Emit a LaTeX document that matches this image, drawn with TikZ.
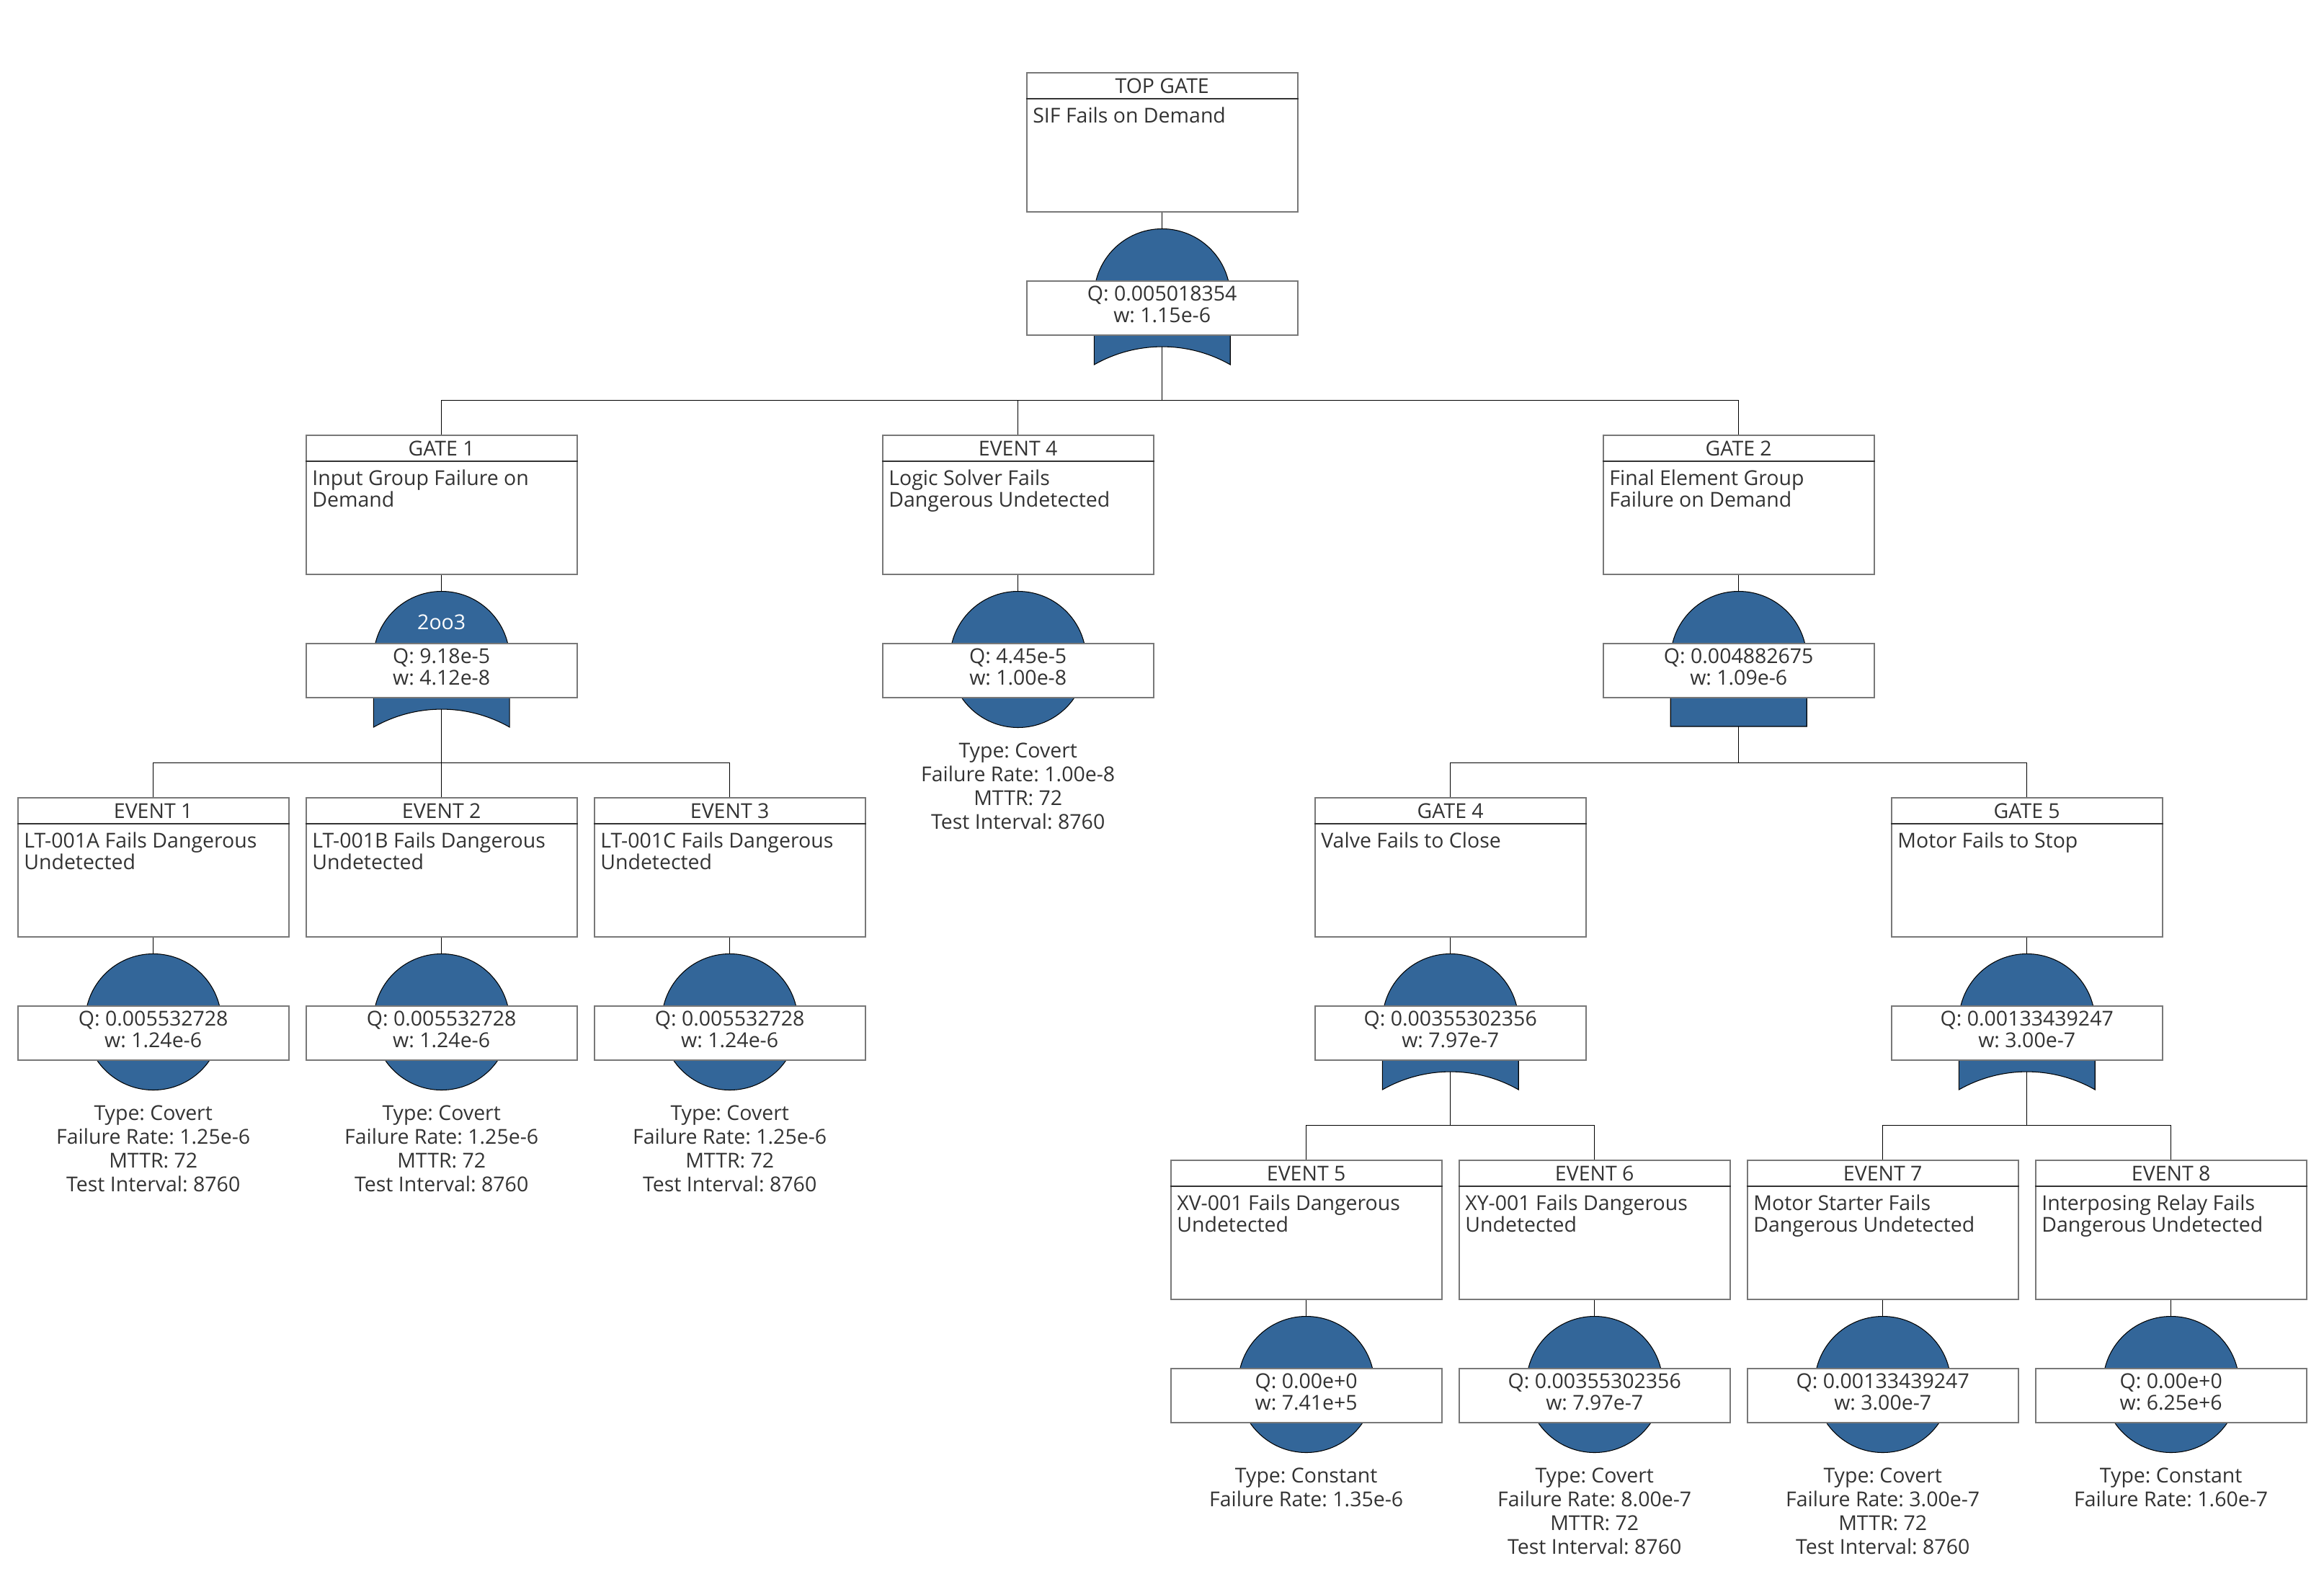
\documentclass[tikz,border=0pt]{standalone}
\usepackage{fontspec}
\setmainfont{Open Sans}
\usetikzlibrary{positioning}
\frenchspacing

\definecolor{gateblue}{RGB}{51,102,153}
\definecolor{framegray}{RGB}{120,120,120}
\definecolor{inkgray}{RGB}{51,51,51}

\begin{document}
\begin{tikzpicture}
        [font=\fontsize{8.1}{8.5}\selectfont,text=inkgray,
         box/.style={draw=framegray,line width=0.6pt,fill=white,minimum width=3.76cm,minimum height=1.93cm,inner sep=0pt,anchor=north},
         qbox/.style={draw=framegray,line width=0.6pt,fill=white,minimum width=3.76cm,minimum height=0.75cm,inner sep=0pt},
         qtxt/.style={align=center,inner sep=0pt},
         divider/.style={draw=inkgray,line width=0.45pt},
         gate/.style={fill=gateblue,draw=black,line width=0.3pt},
         basic/.style={circle,fill=gateblue,draw=black,line width=0.3pt,minimum size=1.89cm,inner sep=0pt},
         link/.style={draw=black,line width=0.3pt},
         ttl/.style={anchor=base,inner sep=0pt},
         desc/.style={anchor=north west,align=left,inner sep=0pt},
         info/.style={align=center,inner sep=0pt,font=\fontsize{8.1}{9.4}\selectfont}]
        \useasboundingbox (0,0) rectangle (32.25,-22.08);

        % or gates (the voting gate g1 too)
        \foreach \nm/\k/\lev in {top/7/0, g1/2/1, g4/9/2, g5/13/2} {
            \pgfmathsetmacro\cx{2.127+2*\k}
            \pgfmathsetmacro\yt{-0.995-5.03*\lev}
            \draw[gate] ({\cx-0.945},{\yt-3.125}) arc[start angle=180,end angle=0,radius=0.945]
                -- ({\cx+0.945},{\yt-4.065}) arc[start angle=60.4,end angle=119.6,radius=1.911] -- cycle;
            \coordinate (\nm-t) at ({\cx},{\yt-2.18});
            \coordinate (\nm-b) at ({\cx},{\yt-3.815});
            \coordinate (\nm-bus) at ({\cx},{\yt-4.56});
        }
        \node[ttl,text=white] (g1-vote) at ([yshift=-0.527cm]g1-t) {2oo3};

        % and gate
        \draw[gate] (23.182,-9.15) arc[start angle=180,end angle=0,radius=0.945]
            -- (25.072,-10.08) -- (23.182,-10.08) -- cycle;
        \coordinate (g2-t) at (24.127,-8.205);
        \coordinate (g2-b) at (24.127,-10.08);
        \coordinate (g2-bus) at (24.127,-10.585);

        % basic events
        \foreach \nm/\k/\lev in {e1/0/2, e2/2/2, e3/4/2, e4/6/1, e5/8/3, e6/10/3, e7/12/3, e8/14/3}
            \node[basic] (\nm-c) at ({2.127+2*\k},{-4.12-5.03*\lev}) {};

        % boxes
        \foreach \nm/\k/\lev/\ttl/\desc/\q/\w in {
            top/7/0/TOP GATE/{SIF Fails on Demand}/0.005018354/1.15e-6,
            g1/2/1/GATE 1/{Input Group Failure on\\Demand}/9.18e-5/4.12e-8,
            e4/6/1/EVENT 4/{Logic Solver Fails\\Dangerous Undetected}/4.45e-5/1.00e-8,
            g2/11/1/GATE 2/{Final Element Group\\Failure on Demand}/0.004882675/1.09e-6,
            e1/0/2/EVENT 1/{LT-001A Fails Dangerous\\Undetected}/0.005532728/1.24e-6,
            e2/2/2/EVENT 2/{LT-001B Fails Dangerous\\Undetected}/0.005532728/1.24e-6,
            e3/4/2/EVENT 3/{LT-001C Fails Dangerous\\Undetected}/0.005532728/1.24e-6,
            g4/9/2/GATE 4/{Valve Fails to Close}/0.00355302356/7.97e-7,
            g5/13/2/GATE 5/{Motor Fails to Stop}/0.00133439247/3.00e-7,
            e5/8/3/EVENT 5/{XV-001 Fails Dangerous\\Undetected}/0.00e+0/7.41e+5,
            e6/10/3/EVENT 6/{XY-001 Fails Dangerous\\Undetected}/0.00355302356/7.97e-7,
            e7/12/3/EVENT 7/{Motor Starter Fails\\Dangerous Undetected}/0.00133439247/3.00e-7,
            e8/14/3/EVENT 8/{Interposing Relay Fails\\Dangerous Undetected}/0.00e+0/6.25e+6} {
            \node[box] (\nm) at ({2.127+2*\k},{-0.995-5.03*\lev}) {};
            \draw[divider] ([yshift=-0.377cm]\nm.north west) -- ([yshift=-0.377cm]\nm.north east);
            \node[ttl] (\nm-ttl) at ([yshift=-0.297cm]\nm.north) {\ttl};
            \node[desc] (\nm-desc) at ([xshift=0.09cm,yshift=-0.483cm]\nm.north west) {\desc};
            \node[qbox,below=0.94cm of \nm] (\nm-q) {};
            \node[qtxt,below=0.08cm of \nm-q.north] (\nm-qv) {Q: \q\\w: \w};
        }

        % event data
        \foreach \nm/\txt in {
            e1/{Type: Covert\\Failure Rate: 1.25e-6\\MTTR: 72\\Test Interval: 8760},
            e2/{Type: Covert\\Failure Rate: 1.25e-6\\MTTR: 72\\Test Interval: 8760},
            e3/{Type: Covert\\Failure Rate: 1.25e-6\\MTTR: 72\\Test Interval: 8760},
            e4/{Type: Covert\\Failure Rate: 1.00e-8\\MTTR: 72\\Test Interval: 8760},
            e5/{Type: Constant\\Failure Rate: 1.35e-6},
            e6/{Type: Covert\\Failure Rate: 8.00e-7\\MTTR: 72\\Test Interval: 8760},
            e7/{Type: Covert\\Failure Rate: 3.00e-7\\MTTR: 72\\Test Interval: 8760},
            e8/{Type: Constant\\Failure Rate: 1.60e-7}}
            \node[info,below=0.2cm of \nm-c] (\nm-info) {\txt};

        \foreach \nm in {top, g1, g2, g4, g5}
            \draw[link] (\nm) -- (\nm-t);
        \foreach \nm in {e1, e2, e3, e4, e5, e6, e7, e8}
            \draw[link] (\nm) -- (\nm-c);

        \foreach \from/\to in {top/g1, top/e4, top/g2, g1/e1, g1/e2, g1/e3, g2/g4, g2/g5, g4/e5, g4/e6, g5/e7, g5/e8}
            \draw[link] (\from-b) -- (\from-bus) -| (\to);

\end{tikzpicture}
\end{document}
